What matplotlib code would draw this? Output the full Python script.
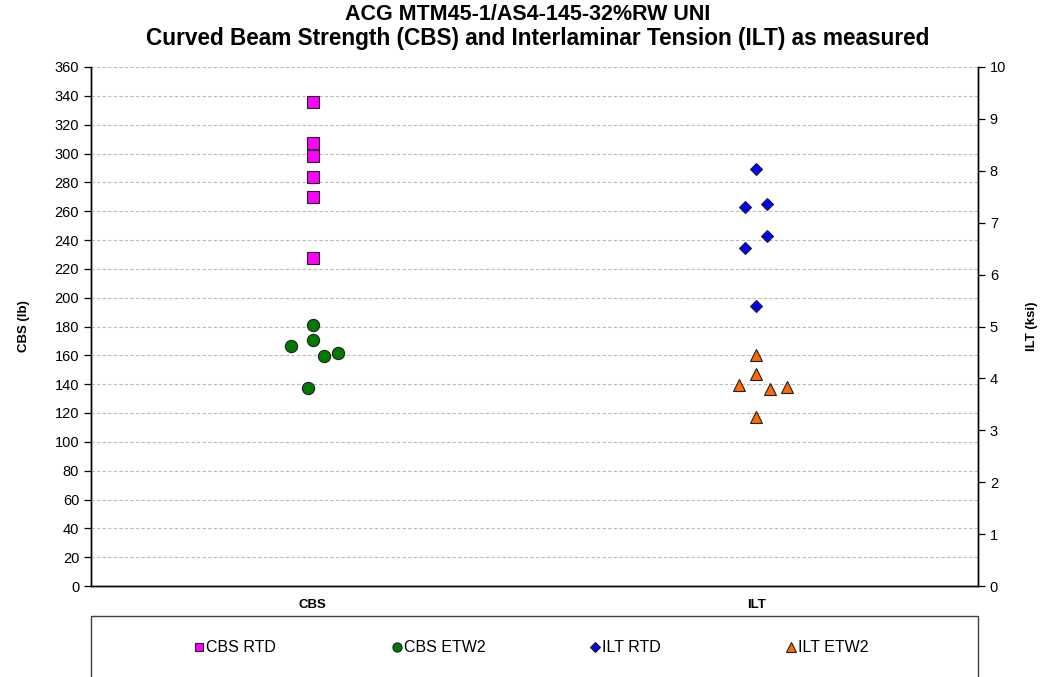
import matplotlib
matplotlib.use("Agg")
import matplotlib.pyplot as plt
from matplotlib.patches import Rectangle
import numpy as np

plt.rcParams['font.family'] = ['Liberation Sans', 'DejaVu Sans']

# category positions (1 = CBS, 2 = ILT) with small horizontal offsets as in the original
categories = ['CBS', 'ILT']

cbs_rtd_x = [1, 1, 1, 1, 1, 1]
cbs_rtd = [335.5, 307, 298.5, 284, 270, 227.7]

cbs_etw2_x = [1.0, 1.0, 0.95, 1.025, 1.058, 0.99]
cbs_etw2 = [181, 170.8, 166.5, 159.5, 161.8, 137.5]

ilt_rtd_x = [2.0, 1.974, 2.025, 2.025, 1.974, 2.0]
ilt_rtd = [8.03, 7.30, 7.36, 6.74, 6.52, 5.39]

ilt_etw2_x = [2.0, 2.0, 1.96, 2.03, 2.07, 2.0]
ilt_etw2 = [4.45, 4.08, 3.87, 3.80, 3.83, 3.26]

fig = plt.figure(figsize=(10.43, 6.77), dpi=100)
ax = fig.add_axes([91/1043, 1-586/677, (978-91)/1043, (586-67)/677])
ax2 = ax.twinx()

edge = '#202020'
ax.plot(cbs_rtd_x, cbs_rtd, 's', color='#FF00FF', markersize=8, mec=edge, mew=0.8, label='CBS RTD', zorder=3)
ax.plot(cbs_etw2_x, cbs_etw2, 'o', color='#007A00', markersize=8.8, mec=edge, mew=0.8, label='CBS ETW2', zorder=3)
ax2.plot(ilt_rtd_x, ilt_rtd, 'D', color='#0000FF', markersize=6.4, mec=edge, mew=0.8, label='ILT RTD', zorder=3)
ax2.plot(ilt_etw2_x, ilt_etw2, '^', color='#FF6A00', markersize=9, mec=edge, mew=0.8, label='ILT ETW2', zorder=3)

ax.set_xlim(0.5, 2.5)
ax.set_ylim(0, 360)
ax.set_yticks(np.arange(0, 361, 20))
ax2.set_ylim(0, 10)
ax2.set_yticks(np.arange(0, 11, 1))

ax.set_xticks([1, 2])
ax.set_xticklabels(categories, fontsize=9.5, fontweight='bold')
ax.tick_params(axis='x', length=0, pad=9)
ax.tick_params(axis='y', labelsize=10.5, length=5, width=0.9, direction='out')
ax2.tick_params(axis='y', labelsize=10.5, length=5, width=0.9, direction='out')

ax.yaxis.grid(True, linestyle=(0, (3, 2)), color='#BBBBBB', linewidth=0.8)
ax.set_axisbelow(True)

for a in (ax, ax2):
    a.spines['top'].set_visible(False)
    for s in ('left', 'right', 'bottom'):
        a.spines[s].set_linewidth(1.0)
        a.spines[s].set_color('black')

ax.set_ylabel('CBS (lb)', fontsize=9.5, fontweight='bold', labelpad=18)
ax2.set_ylabel('ILT (ksi)', fontsize=9.5, fontweight='bold', rotation=90, labelpad=14)

fig.text(528/1043, 1-15/677, 'ACG MTM45-1/AS4-145-32%RW UNI', ha='center', va='center',
         fontsize=15.5, fontweight='bold')
fig.text(538/1043, 1-39/677, 'Curved Beam Strength (CBS) and Interlaminar Tension (ILT) as measured',
         ha='center', va='center', fontsize=16.3, fontweight='bold')

# legend box, cut off at the bottom like the original
fig.patches.append(Rectangle((91/1043, -0.05), (978-91)/1043, 0.05 + (677-616)/677,
                             transform=fig.transFigure, fill=False, edgecolor='#404040', linewidth=1.0))

h1, l1 = ax.get_legend_handles_labels()
h2, l2 = ax2.get_legend_handles_labels()
legend_x = [194, 392, 590, 786]
for h, l, x in zip(h1 + h2, l1 + l2, legend_x):
    leg = fig.legend([h], [l], loc='center left', bbox_to_anchor=(x/1043, 1-648/677),
                     frameon=False, fontsize=11.5, markerscale=0.75, handlelength=0.6,
                     handletextpad=0.15, borderpad=0, borderaxespad=0)

fig.savefig('out.png', dpi=100)
